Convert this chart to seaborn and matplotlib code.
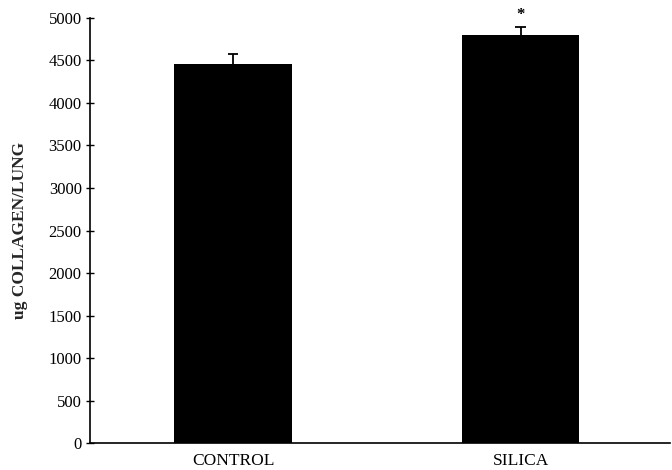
import matplotlib
matplotlib.use("Agg")
import matplotlib.pyplot as plt
import seaborn as sns
import pandas as pd

groups = ["CONTROL", "SILICA"]
collagen = [4460, 4800]
sem = [110, 95]
significant = [False, True]

sns.set_theme(style="white")
plt.rcParams["font.family"] = ["Liberation Serif", "DejaVu Serif"]

df = pd.DataFrame({"group": groups, "collagen": collagen})

fig = plt.figure(figsize=(6.72, 4.70), dpi=100)
ax = fig.add_axes([0.134, 0.057, 0.863, 0.905])

sns.barplot(data=df, x="group", y="collagen", color="black", width=0.41,
            saturation=1, errorbar=None, linewidth=0, ax=ax)

# upward-only error bars: stem plus a single top cap
xs = list(range(len(groups)))
tops = [v + e for v, e in zip(collagen, sem)]
ax.vlines(xs, collagen, tops, colors="black", linewidth=1.3, zorder=5)
cap = 0.018
ax.hlines(tops, [x - cap for x in xs], [x + cap for x in xs],
          colors="black", linewidth=1.3, zorder=5)

for i, (t, s) in enumerate(zip(tops, significant)):
    if s:
        ax.text(i, t + 40, "*", ha="center", va="bottom",
                fontsize=12, fontweight="bold", color="black")

ax.set_ylim(0, 5000)
ax.set_xlim(-0.498, 1.52)
ax.set_yticks(range(0, 5001, 500))
ax.tick_params(axis="y", direction="inout", length=6, width=1, left=True,
               labelsize=12, colors="black", pad=3)
ax.tick_params(axis="x", length=0, labelsize=12.5, colors="black", pad=7)
ax.set_xlabel("")
ax.set_ylabel("ug COLLAGEN/LUNG", fontsize=12.5, fontweight="bold", labelpad=15)

for side in ["top", "right"]:
    ax.spines[side].set_visible(False)
for side in ["left", "bottom"]:
    ax.spines[side].set_color("black")
    ax.spines[side].set_linewidth(1.2)

fig.savefig("out.png", dpi=100)
